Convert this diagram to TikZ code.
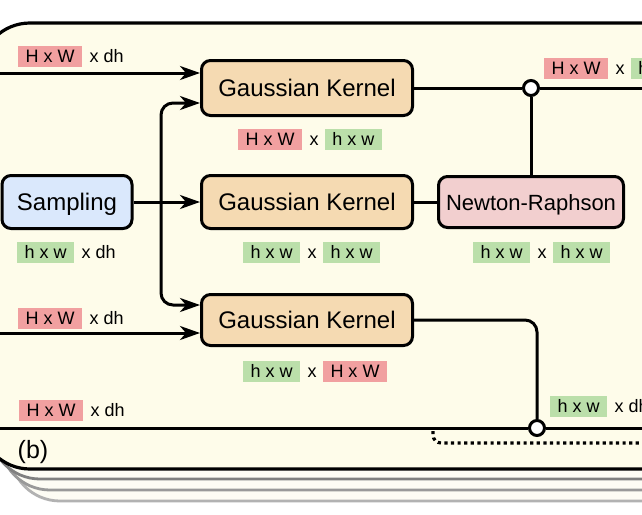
\documentclass[tikz,border=0pt]{standalone}
\usepackage{fontspec}
\setmainfont{Liberation Sans}
\usetikzlibrary{arrows.meta,calc}
\definecolor{panelfill}{RGB}{254,252,234}
\definecolor{gkfill}{RGB}{245,218,178}
\definecolor{sampfill}{RGB}{218,232,252}
\definecolor{nrfill}{RGB}{242,207,207}
\definecolor{redlabfill}{RGB}{241,160,160}
\definecolor{greenlabfill}{RGB}{187,223,170}
\definecolor{copyfill}{RGB}{253,252,244}
\begin{document}
\begin{tikzpicture}[x=1pt,y=-1pt,
  panel/.style={draw=black,line width=3.2pt,fill=panelfill,rounded corners=50pt},
  pagecopy/.style={line width=2.8pt,fill=copyfill,rounded corners=50pt},
  block/.style={draw=black,line width=3pt,rounded corners=9pt,
    font=\fontsize{24}{28}\selectfont,text height=17pt,text depth=0pt,inner sep=0pt},
  redlab/.style={fill=redlabfill,inner xsep=7.5pt,inner ysep=0pt,minimum height=21pt,
    text height=13pt,text depth=0pt,font=\fontsize{18}{21}\selectfont,anchor=west},
  greenlab/.style={redlab,fill=greenlabfill},
  plain/.style={inner sep=0pt,text height=13pt,text depth=0pt,
    font=\fontsize{18}{21}\selectfont,anchor=west},
  wire/.style={line width=3pt,draw=black},
  arr/.style={wire,-{Stealth[length=20pt,width=14pt,inset=6pt]}},
  junc/.style={circle,draw=black,line width=3pt,fill=white,inner sep=0pt,minimum size=15pt},
  dotwire/.style={line width=3.2pt,dash pattern=on 3.2pt off 3.4pt}
]
\useasboundingbox (0,0) rectangle (642,514);
\clip (0,0) rectangle (642,514);
\fill[white] (0,0) rectangle (642,514);

% stacked page copies
\draw[pagecopy,draw=black!30] (10,56) rectangle (730,501);
\draw[pagecopy,draw=black!40] (0,45) rectangle (720,490);
\draw[pagecopy,draw=black!50] (-10,34) rectangle (710,479);
% main panel
\draw[panel] (-20,23) rectangle (700,469);

% blocks
\node[block,fill=gkfill,minimum width=211pt,minimum height=55pt] (gk1) at (307,88) {Gaussian Kernel};
\node[block,fill=gkfill,minimum width=211pt,minimum height=53pt] (gk2) at (307,202) {Gaussian Kernel};
\node[block,fill=gkfill,minimum width=211pt,minimum height=51pt] (gk3) at (307,320) {Gaussian Kernel};
\node[block,fill=sampfill,minimum width=130pt,minimum height=53pt] (samp) at (67,202) {Sampling};
\node[block,fill=nrfill,minimum width=185pt,minimum height=51pt,font=\fontsize{22}{26}\selectfont,text height=16pt] (nr) at (531,202) {Newton-Raphson};

% junctions and free ends
\node[junc] (c1) at (531,88) {};
\node[junc] (c2) at (537,428) {};
\coordinate (in1) at (-60,73);
\coordinate (in3) at (-60,333);
\coordinate (inb) at (-60,428);
\coordinate (out1) at (720,88);
\coordinate (outb) at (720,428);
\coordinate (split) at (161,202);
\coordinate (dA) at (433,431);
\coordinate (dB) at (720,443);

% connectors
\draw[arr] (in1) -- (in1 -| gk1.west);
\draw[arr] (in3) -- (in3 -| gk3.west);
\draw[arr] (samp.east) -- (gk2.west);
\draw[arr,rounded corners=12pt] (split) |- ([yshift=-15pt]gk1.west);
\draw[arr,rounded corners=12pt] (split) |- ([yshift=15pt]gk3.west);
\draw[wire] (gk1.east) -- (c1);
\draw[wire] (c1) -- (out1);
\draw[wire] (c1) -- (nr.north);
\draw[wire] (gk2.east) -- (nr.west);
\draw[wire,rounded corners=12pt] (gk3.east) -| (c2);
\draw[wire] (inb) -- (c2);
\draw[wire] (c2) -- (outb);
\draw[dotwire,rounded corners=8pt] (dA) |- (dB);

% labels
\node[redlab] (l1a) at (18,56) {H x W};
\node[plain] (l1b) at ($(l1a.east)+(7,0)$) {x dh};

\node[redlab] (l2a) at (238,139) {H x W};
\node[plain] (l2x) at ($(l2a.east)+(7,0)$) {x};
\node[greenlab] (l2b) at ($(l2x.east)+(6,0)$) {h x w};

\node[redlab] (l3a) at (544,68) {H x W};
\node[plain] (l3x) at ($(l3a.east)+(7,0)$) {x};
\node[greenlab] (l3b) at ($(l3x.east)+(6,0)$) {h x w};

\node[greenlab] (l4a) at (17,252) {h x w};
\node[plain] (l4b) at ($(l4a.east)+(7,0)$) {x dh};

\node[greenlab] (l5a) at (243,252) {h x w};
\node[plain] (l5x) at ($(l5a.east)+(7,0)$) {x};
\node[greenlab] (l5b) at ($(l5x.east)+(6,0)$) {h x w};

\node[greenlab] (l6a) at (473,252) {h x w};
\node[plain] (l6x) at ($(l6a.east)+(7,0)$) {x};
\node[greenlab] (l6b) at ($(l6x.east)+(6,0)$) {h x w};

\node[greenlab] (l7a) at (243,371) {h x w};
\node[plain] (l7x) at ($(l7a.east)+(7,0)$) {x};
\node[redlab] (l7b) at ($(l7x.east)+(6,0)$) {H x W};

\node[redlab] (l8a) at (18,318) {H x W};
\node[plain] (l8b) at ($(l8a.east)+(7,0)$) {x dh};

\node[redlab] (l9a) at (19,410) {H x W};
\node[plain] (l9b) at ($(l9a.east)+(7,0)$) {x dh};

\node[greenlab] (l10a) at (550,406) {h x w};
\node[plain] (l10b) at ($(l10a.east)+(7,0)$) {x dh};

\node[font=\fontsize{25}{29}\selectfont,inner sep=0pt] (lb) at (33,452) {(b)};
\end{tikzpicture}
\end{document}
